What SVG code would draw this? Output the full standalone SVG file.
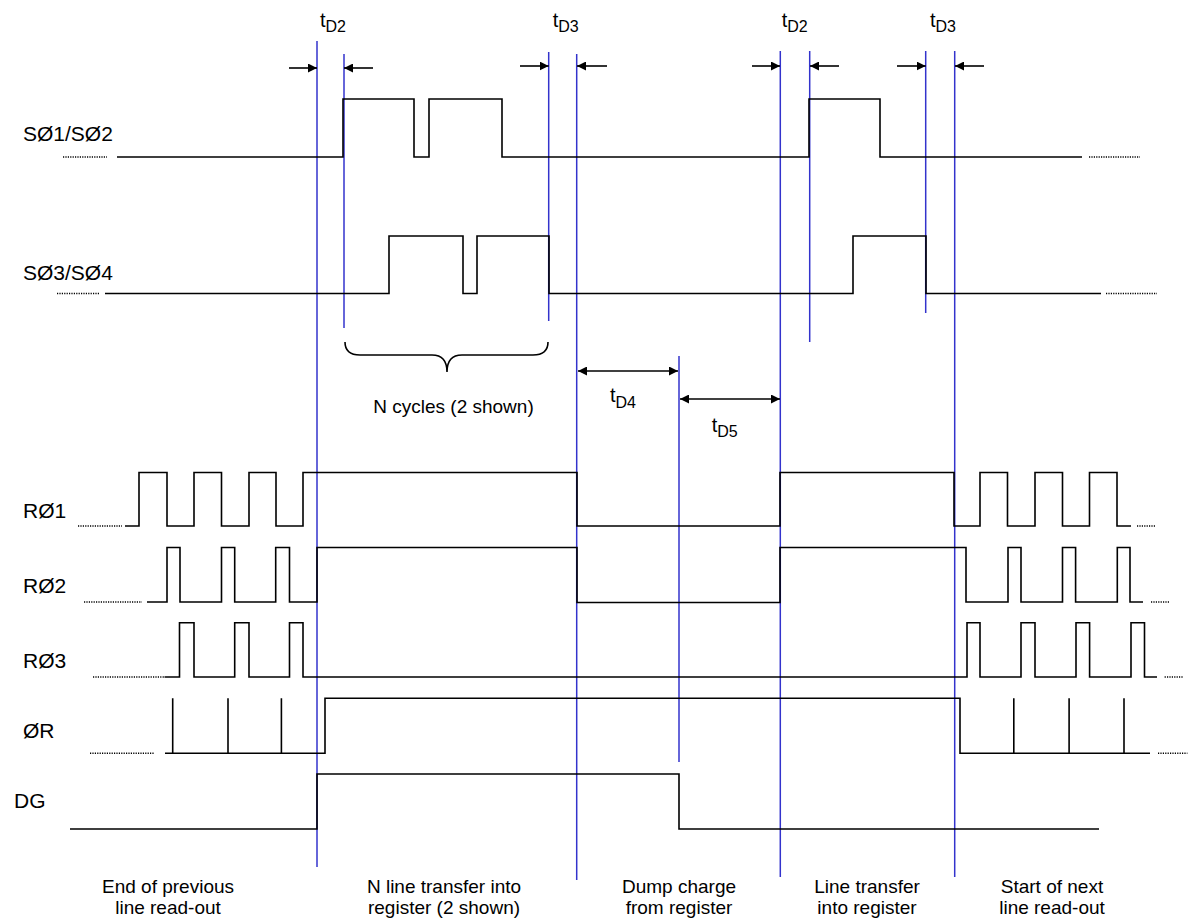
<svg xmlns="http://www.w3.org/2000/svg" width="1190" height="924" viewBox="0 0 1190 924">
<style>
.w{fill:none;stroke:#000;stroke-width:1.6}
.d{fill:none;stroke:#000;stroke-width:1.5;stroke-dasharray:1.2 1.2}
.b{fill:none;stroke:#3333cc;stroke-width:1.5}
.a{fill:none;stroke:#000;stroke-width:1.6}
.t{font-family:"Liberation Sans",Arial,sans-serif;fill:#000}
.lbl{font-size:21px}
.cap{font-size:19px;text-anchor:middle}
.td{font-size:20px}
.sub{font-size:16px}
</style>
<defs>
<marker id="ah" viewBox="0 0 9 9" refX="9" refY="4.5" markerWidth="9" markerHeight="9" markerUnits="userSpaceOnUse" orient="auto-start-reverse">
<path d="M0,0 L9,4.5 L0,9 z" fill="#000"/>
</marker>
</defs>
<rect width="1190" height="924" fill="#fff"/>

<g id="timing-lines">
<path class="b" d="M317,41 V867"/>
<path class="b" d="M344,54 V328"/>
<path class="b" d="M548.7,52 V321"/>
<path class="b" d="M576.7,54 V880"/>
<path class="b" d="M780.3,51 V877"/>
<path class="b" d="M809.7,51 V342"/>
<path class="b" d="M925.7,51 V313"/>
<path class="b" d="M954.7,51 V877"/>
<path class="b" d="M679,356 V762"/>
</g>

<g id="s12">
<text class="t lbl" x="23" y="141">SØ1/SØ2</text>
<path class="d" d="M63,157 H107"/>
<path class="w" d="M117,157 H343 V99 H414 V157 H429 V99 H502 V157 H809 V99 H880 V157 H1082"/>
<path class="d" d="M1089,157 H1140"/>
</g>

<g id="s34">
<text class="t lbl" x="23" y="280">SØ3/SØ4</text>
<path class="d" d="M57,293.5 H100"/>
<path class="w" d="M105,293.5 H389 V236 H463 V293.5 H477 V236 H549 V293.5 H853 V236 H926 V293.5 H1101"/>
<path class="d" d="M1106,293.5 H1157"/>
</g>

<g id="r1">
<text class="t lbl" x="23" y="518">RØ1</text>
<path class="d" d="M78,526 H122"/>
<path class="w" d="M125,526 H139 V472.5 H167 V526 H194 V472.5 H221.5 V526 H249 V472.5 H276 V526 H303 V472.5 H577 V526 H780 V472.5 H954 V526 H980 V472.5 H1007.5 V526 H1035 V472.5 H1062.5 V526 H1089.5 V472.5 H1117 V526 H1131"/>
<path class="d" d="M1137,526 H1156"/>
</g>

<g id="r2">
<text class="t lbl" x="23" y="593">RØ2</text>
<path class="d" d="M84,602 H142"/>
<path class="w" d="M147,602 H167 V547.5 H180 V602 H221.5 V547.5 H234.7 V602 H275.7 V547.5 H289.5 V602 H317 V547.5 H577 V602.5 H780 V547.5 H966 V602 H1008 V547.5 H1021 V602 H1062.5 V547.5 H1075.6 V602 H1117.3 V547.5 H1130 V602 H1143"/>
<path class="d" d="M1151,602 H1170"/>
</g>

<g id="r3">
<text class="t lbl" x="23" y="668">RØ3</text>
<path class="d" d="M93,677 H164"/>
<path class="w" d="M164.5,677 H179.5 V622.7 H194 V677 H234.7 V622.7 H249 V677 H289.5 V622.7 H303 V677 H967 V622.7 H980 V677 H1021 V622.7 H1035 V677 H1076 V622.7 H1089.6 V677 H1131 V622.7 H1144.5 V677 H1157"/>
<path class="d" d="M1164.6,677 H1183.4"/>
</g>

<g id="or">
<text class="t lbl" x="23" y="738">ØR</text>
<path class="d" d="M90,753.3 H154.5"/>
<path class="w" d="M165,753.3 H325 V698.3 H960 V753.3 H1150"/>
<path class="w" d="M172.7,753.3 V698.3 M228,753.3 V698.3 M281.4,753.3 V698.3 M1013.8,753.3 V698.3 M1069.1,753.3 V698.3 M1124,753.3 V698.3"/>
<path class="d" d="M1158,753.3 H1187.4"/>
</g>

<g id="dg">
<text class="t lbl" x="14" y="808">DG</text>
<path class="w" d="M70,829 H317 V774 H679 V829 H1099"/>
</g>

<g id="connectors">
<path class="a" d="M289,68 H317" marker-end="url(#ah)"/>
<path class="a" d="M373,68 H344" marker-end="url(#ah)"/>
<path class="a" d="M520,66 H548.7" marker-end="url(#ah)"/>
<path class="a" d="M607,66 H577" marker-end="url(#ah)"/>
<path class="a" d="M752,66 H780" marker-end="url(#ah)"/>
<path class="a" d="M839,66 H810" marker-end="url(#ah)"/>
<path class="a" d="M897,66 H925.7" marker-end="url(#ah)"/>
<path class="a" d="M984,66 H955" marker-end="url(#ah)"/>
<path class="a" d="M578,371 H678" marker-start="url(#ah)" marker-end="url(#ah)"/>
<path class="a" d="M680,399 H780" marker-start="url(#ah)" marker-end="url(#ah)"/>
<path class="a" d="M345,342 Q345,355 360,355 H432 Q447,355 447,372 Q447,355 462,355 H533 Q548,355 548,342"/>
</g>

<g id="delay-labels">
<text class="t td" x="320" y="27">t<tspan class="sub" dy="5">D2</tspan></text>
<text class="t td" x="552.7" y="27">t<tspan class="sub" dy="5">D3</tspan></text>
<text class="t td" x="781.7" y="27">t<tspan class="sub" dy="5">D2</tspan></text>
<text class="t td" x="930" y="27">t<tspan class="sub" dy="5">D3</tspan></text>
<text class="t td" x="610" y="402">t<tspan class="sub" dy="6">D4</tspan></text>
<text class="t td" x="711.7" y="432">t<tspan class="sub" dy="5">D5</tspan></text>
<text class="t cap" x="453.5" y="413">N cycles (2 shown)</text>
</g>

<g id="phase-labels">
<text class="t cap" x="168" y="893">End of previous</text>
<text class="t cap" x="168" y="914">line read-out</text>
<text class="t cap" x="444" y="893">N line transfer into</text>
<text class="t cap" x="444" y="914">register (2 shown)</text>
<text class="t cap" x="679" y="893">Dump charge</text>
<text class="t cap" x="679" y="914">from register</text>
<text class="t cap" x="867" y="893">Line transfer</text>
<text class="t cap" x="867" y="914">into register</text>
<text class="t cap" x="1052" y="893">Start of next</text>
<text class="t cap" x="1052" y="914">line read-out</text>
</g>
</svg>
